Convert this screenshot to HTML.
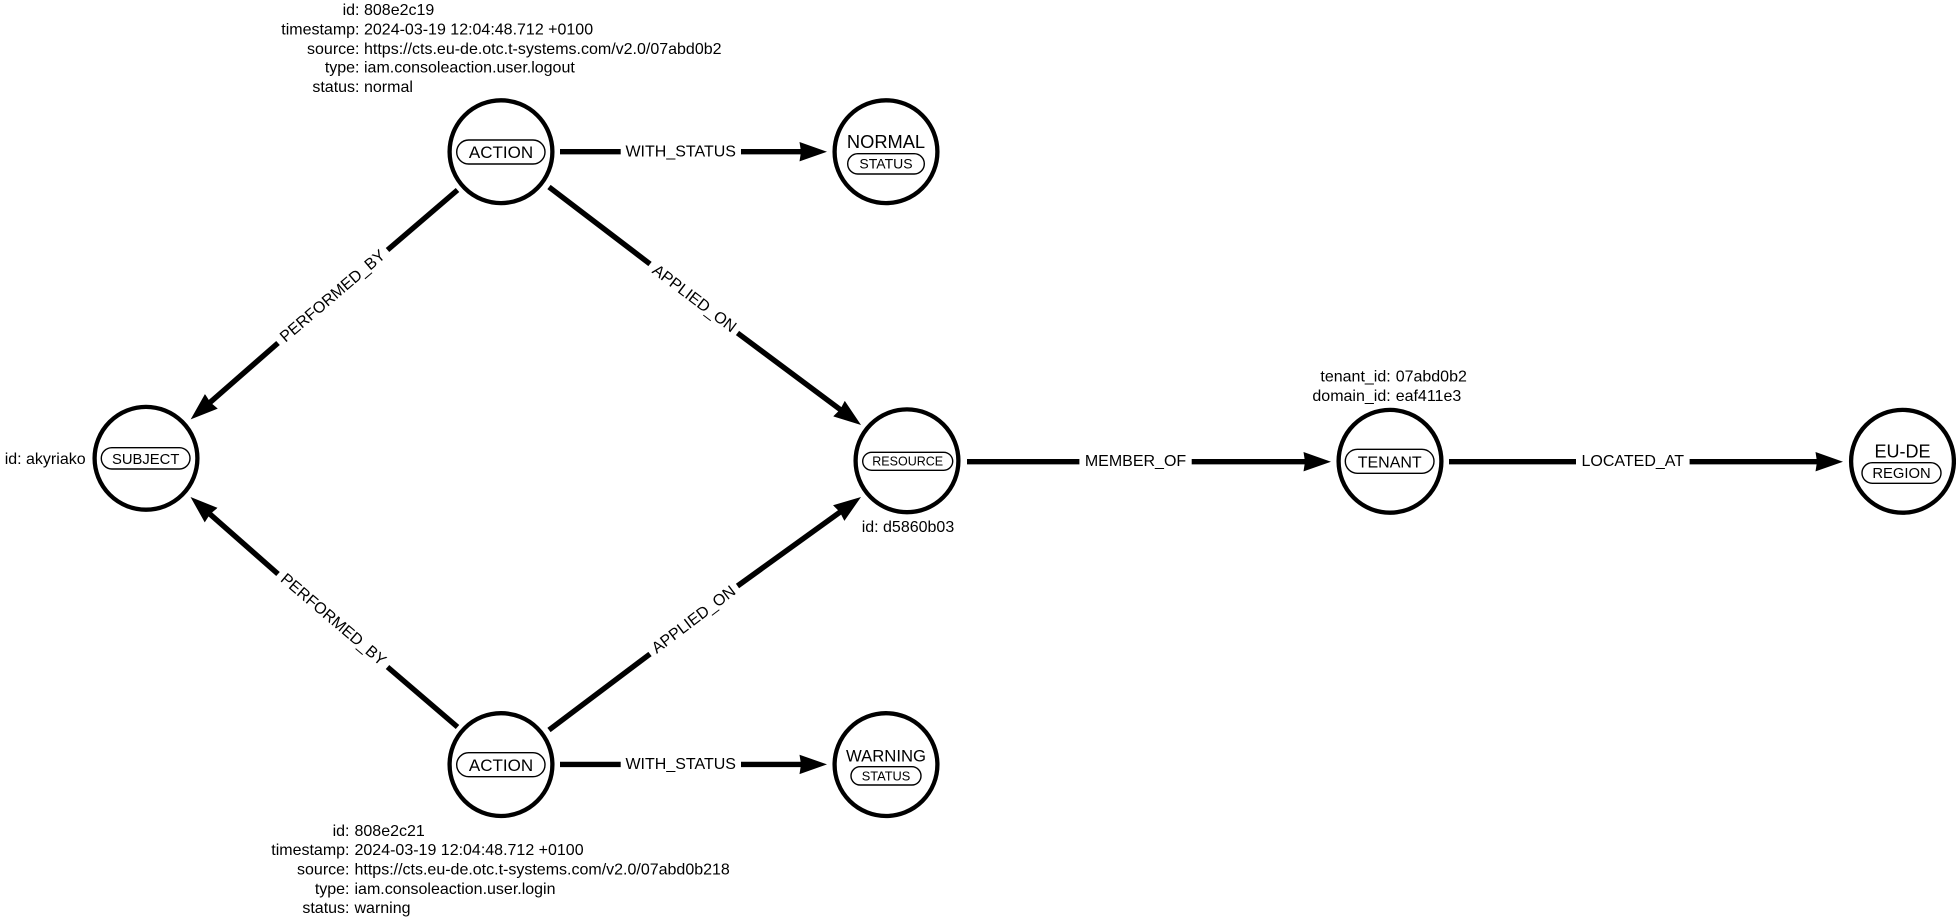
<!DOCTYPE html>
<html><head><meta charset="utf-8"><title>Graph</title>
<style>
html,body{margin:0;padding:0;background:#fff;width:1956px;height:917px;overflow:hidden}
svg{display:block}
text{font-family:"Liberation Sans",Arial,sans-serif;fill:#000}
.t{font-size:16px}
.e{font-size:16px;text-anchor:middle;dominant-baseline:central}
.m{text-anchor:middle}
.r{text-anchor:end}
.n{fill:#fff;stroke:#000;stroke-width:4.3}
.p{fill:#fff;stroke:#000;stroke-width:1.4}
.l{stroke:#000;stroke-width:5.4;fill:none}
</style></head><body>
<svg width="1956" height="917" viewBox="0 0 1956 917" xmlns="http://www.w3.org/2000/svg">
<defs>
<marker id="a" markerUnits="userSpaceOnUse" markerWidth="30" markerHeight="22" refX="9" refY="10" orient="auto"><polygon points="0,0.3 27.5,10 0,19.7 1.5,10" fill="#000"/></marker>
</defs>

<!-- connectors -->
<line class="l" x1="560" y1="151.7" x2="620.7" y2="151.7"/>
<line class="l" x1="741" y1="151.7" x2="808.5" y2="151.7" marker-end="url(#a)"/>
<line class="l" x1="560" y1="764.4" x2="620.7" y2="764.4"/>
<line class="l" x1="741" y1="764.4" x2="808.5" y2="764.4" marker-end="url(#a)"/>

<line class="l" x1="457.5" y1="190" x2="387.5" y2="250"/>
<line class="l" x1="278" y1="343" x2="204.6" y2="407.2" marker-end="url(#a)"/>
<line class="l" x1="549" y1="187" x2="650" y2="264"/>
<line class="l" x1="737.5" y1="333" x2="846.2" y2="414" marker-end="url(#a)"/>
<line class="l" x1="457.5" y1="727" x2="387.5" y2="667"/>
<line class="l" x1="278" y1="574" x2="204.4" y2="509.2" marker-end="url(#a)"/>
<line class="l" x1="549" y1="730" x2="650" y2="654"/>
<line class="l" x1="737.5" y1="586" x2="846" y2="507.8" marker-end="url(#a)"/>

<line class="l" x1="967" y1="461.7" x2="1079.4" y2="461.7"/>
<line class="l" x1="1191.7" y1="461.7" x2="1312.5" y2="461.7" marker-end="url(#a)"/>
<line class="l" x1="1449" y1="461.7" x2="1576" y2="461.7"/>
<line class="l" x1="1689.6" y1="461.7" x2="1824.5" y2="461.7" marker-end="url(#a)"/>

<!-- connector labels -->
<text class="e" x="680.7" y="152">WITH_STATUS</text>
<text class="e" x="680.7" y="764.5">WITH_STATUS</text>
<text class="e" x="1135.5" y="461.5">MEMBER_OF</text>
<text class="e" x="1632.8" y="461.5">LOCATED_AT</text>
<text class="e" transform="translate(333,296.5) rotate(-40.4)">PERFORMED_BY</text>
<text class="e" transform="translate(333,620) rotate(40.4)">PERFORMED_BY</text>
<text class="e" transform="translate(694,299) rotate(37.2)">APPLIED_ON</text>
<text class="e" transform="translate(694,620) rotate(-37.2)">APPLIED_ON</text>

<!-- nodes -->
<circle class="n" cx="501" cy="151.7" r="51.4"/>
<circle class="n" cx="886" cy="151.7" r="51.4"/>
<circle class="n" cx="146" cy="458.3" r="51.4"/>
<circle class="n" cx="907" cy="460.8" r="51.4"/>
<circle class="n" cx="501" cy="764.6" r="51.4"/>
<circle class="n" cx="886" cy="764.6" r="51.4"/>
<circle class="n" cx="1390" cy="461.3" r="51.4"/>
<circle class="n" cx="1902.5" cy="461.3" r="51.4"/>

<!-- pills -->
<rect class="p" x="456.7" y="140" width="88.3" height="24" rx="12"/>
<text class="m" x="501" y="157.8" font-size="17">ACTION</text>
<text class="m" x="886" y="148" font-size="18.3">NORMAL</text>
<rect class="p" x="847.7" y="153.7" width="76.6" height="20.3" rx="10.1"/>
<text class="m" x="886" y="168.6" font-size="14">STATUS</text>
<rect class="p" x="101.3" y="447.7" width="88.7" height="21.3" rx="10.6"/>
<text class="m" x="145.7" y="464" font-size="14.8">SUBJECT</text>
<rect class="p" x="862.7" y="452.3" width="90" height="18" rx="9"/>
<text class="m" x="907.7" y="465.6" font-size="12.5">RESOURCE</text>
<rect class="p" x="456.7" y="752.7" width="88.3" height="24" rx="12"/>
<text class="m" x="501" y="770.8" font-size="17">ACTION</text>
<text class="m" x="886" y="761.7" font-size="16.7">WARNING</text>
<rect class="p" x="851" y="766.7" width="70" height="18.3" rx="9.1"/>
<text class="m" x="886" y="780.5" font-size="12.8">STATUS</text>
<rect class="p" x="1345.3" y="449.3" width="88.7" height="24" rx="12"/>
<text class="m" x="1389.7" y="467.3" font-size="16">TENANT</text>
<text class="m" x="1902.5" y="457.6" font-size="18">EU-DE</text>
<rect class="p" x="1862" y="462.7" width="79" height="20.6" rx="10.3"/>
<text class="m" x="1901.5" y="478.2" font-size="14.8">REGION</text>

<!-- properties: top ACTION -->
<g class="t">
<text class="t r" x="359.5" y="15.2">id:</text><text class="t" x="364" y="15.2">808e2c19</text>
<text class="t r" x="359.5" y="34.3">timestamp:</text><text class="t" x="364" y="34.3">2024-03-19 12:04:48.712 +0100</text>
<text class="t r" x="359.5" y="53.8">source:</text><text class="t" x="364" y="53.8">https://cts.eu-de.otc.t-systems.com/v2.0/07abd0b2</text>
<text class="t r" x="359.5" y="72.7">type:</text><text class="t" x="364" y="72.7">iam.consoleaction.user.logout</text>
<text class="t r" x="359.5" y="92">status:</text><text class="t" x="364" y="92">normal</text>
</g>
<!-- properties: bottom ACTION -->
<g class="t">
<text class="t r" x="349.5" y="836">id:</text><text class="t" x="354.5" y="836">808e2c21</text>
<text class="t r" x="349.5" y="855">timestamp:</text><text class="t" x="354.5" y="855">2024-03-19 12:04:48.712 +0100</text>
<text class="t r" x="349.5" y="874.4">source:</text><text class="t" x="354.5" y="874.4">https://cts.eu-de.otc.t-systems.com/v2.0/07abd0b218</text>
<text class="t r" x="349.5" y="894">type:</text><text class="t" x="354.5" y="894">iam.consoleaction.user.login</text>
<text class="t r" x="349.5" y="913">status:</text><text class="t" x="354.5" y="913">warning</text>
</g>
<!-- other properties -->
<text class="t" x="4.7" y="464.2">id: akyriako</text>
<text class="t" x="861.7" y="532.2">id: d5860b03</text>
<text class="t r" x="1390.7" y="381.6">tenant_id:</text><text class="t" x="1395.7" y="381.6">07abd0b2</text>
<text class="t r" x="1390.7" y="400.8">domain_id:</text><text class="t" x="1395.7" y="400.8">eaf411e3</text>
</svg>
</body></html>
